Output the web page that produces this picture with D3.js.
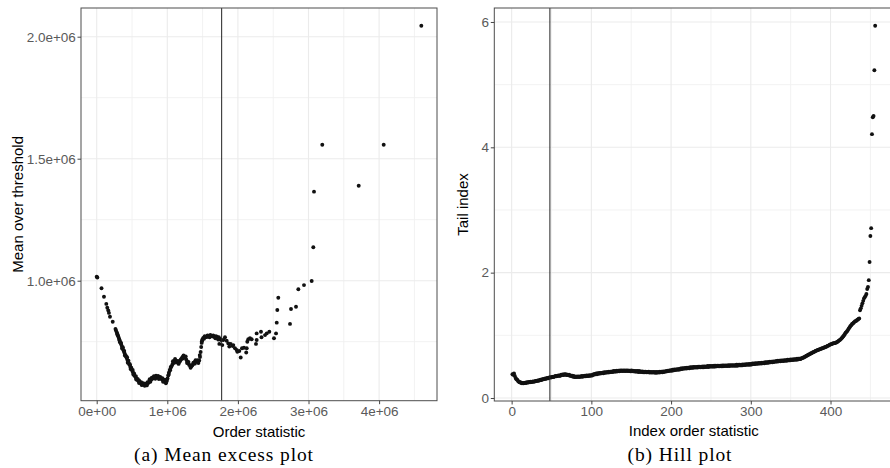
<!DOCTYPE html>
<html>
<head>
<meta charset="utf-8">
<script src="https://cdn.jsdelivr.net/npm/d3@7"></script>
<style>
  html, body { margin: 0; padding: 0; background: #fff; }
  svg { display: block; }
</style>
</head>
<body>
<svg id="fig" width="890" height="468"></svg>
<script>
// ---------- (a) Mean excess plot: threshold vs mean over threshold (both in millions) ----------
const meThreshold = [
  0.000,0.009,0.068,0.103,0.136,0.150,0.164,0.173,0.188,0.227,
  0.266,0.273,0.285,0.295,0.306,0.316,0.326,0.336,0.347,0.358,
  0.368,0.380,0.391,0.401,0.412,0.424,0.435,0.446,0.458,0.469,
  0.480,0.492,0.503,0.514,0.525,0.537,0.550,0.562,0.575,0.588,
  0.601,0.613,0.627,0.642,0.656,0.670,0.684,0.698,0.712,0.727,
  0.741,0.755,0.769,0.783,0.797,0.812,0.826,0.840,0.854,0.868,
  0.882,0.897,0.911,0.925,0.939,0.953,0.967,0.982,0.993,1.003,
  1.013,1.024,1.035,1.047,1.059,1.072,1.085,1.098,1.112,1.126,
  1.140,1.154,1.169,1.183,1.197,1.211,1.225,1.239,1.254,1.268,
  1.282,1.296,1.310,1.324,1.339,1.353,1.367,1.381,1.395,1.409,
  1.424,1.438,1.452,1.463,1.472,1.480,1.487,1.494,1.506,1.520,
  1.534,1.548,1.562,1.576,1.591,1.605,1.619,1.633,1.647,1.661,
  1.676,1.690,1.704,1.718,1.732,1.746,1.761,
  0.300,0.320,0.345,0.370,0.390,0.410,0.430,0.450,0.470,0.490,
  0.510,0.530,0.555,0.580,0.600,0.630,0.660,0.690,0.720,0.750,
  0.780,0.810,0.840,0.870,0.900,0.930,0.960,0.990,1.020,1.050,
  1.080,1.110,1.150,1.190,1.230,1.260,1.300,1.340,1.370,1.400,
  1.430,1.460,1.490,1.530,1.570,1.610,1.650,1.690,1.730,
  0.290,0.330,0.360,0.400,0.440,0.480,0.520,0.560,0.600,0.640,
  0.680,0.710,0.760,0.830,0.880,0.940,0.980,1.040,1.100,1.160,
  1.220,1.280,1.330,1.390,1.440,1.520,1.600,1.680,1.720,
  1.737,1.779,1.793,1.817,1.841,1.864,1.878,1.898,1.926,1.935,
  1.959,1.983,1.992,2.020,2.040,2.058,2.086,2.118,2.125,2.133,
  2.147,2.171,2.195,2.256,2.266,2.266,2.327,2.334,2.384,2.408,
  2.445,2.511,2.540,2.550,2.558,2.572,2.738,2.752,2.823,2.856,
  2.936,3.045,3.068,3.078,3.195,3.711,4.065,4.598
];
const meMeanExcess = [
  1.016,1.013,0.969,0.934,0.905,0.889,0.878,0.868,0.852,0.832,
  0.802,0.796,0.788,0.780,0.771,0.763,0.755,0.747,0.739,0.730,
  0.722,0.714,0.706,0.698,0.690,0.683,0.675,0.668,0.660,0.653,
  0.645,0.638,0.631,0.624,0.617,0.610,0.605,0.599,0.594,0.590,
  0.586,0.582,0.580,0.577,0.576,0.575,0.574,0.575,0.577,0.580,
  0.585,0.590,0.594,0.597,0.600,0.603,0.605,0.605,0.605,0.605,
  0.603,0.600,0.598,0.596,0.593,0.590,0.586,0.585,0.589,0.599,
  0.611,0.624,0.634,0.642,0.649,0.657,0.665,0.671,0.674,0.671,
  0.666,0.663,0.666,0.672,0.679,0.685,0.689,0.689,0.685,0.677,
  0.669,0.661,0.655,0.650,0.648,0.652,0.659,0.665,0.668,0.669,
  0.669,0.669,0.673,0.687,0.708,0.728,0.745,0.757,0.764,0.767,
  0.768,0.769,0.770,0.771,0.773,0.773,0.774,0.773,0.771,0.772,
  0.770,0.768,0.769,0.766,0.763,0.761,0.757,
  0.775,0.757,0.745,0.727,0.712,0.694,0.686,0.672,0.658,0.643,
  0.634,0.620,0.609,0.597,0.591,0.584,0.580,0.578,0.584,0.596,
  0.602,0.609,0.611,0.610,0.606,0.600,0.594,0.593,0.616,0.647,
  0.670,0.679,0.671,0.676,0.694,0.690,0.667,0.654,0.664,0.674,
  0.674,0.695,0.752,0.773,0.776,0.778,0.776,0.773,0.768,
  0.782,0.748,0.722,0.693,0.664,0.638,0.615,0.595,0.581,0.572,
  0.569,0.571,0.586,0.598,0.597,0.586,0.580,0.633,0.664,0.659,
  0.681,0.663,0.643,0.660,0.663,0.762,0.768,0.764,0.759,
  0.741,0.736,0.757,0.768,0.754,0.743,0.730,0.741,0.732,0.736,
  0.723,0.716,0.709,0.712,0.685,0.723,0.725,0.706,0.723,0.750,
  0.760,0.764,0.760,0.741,0.784,0.757,0.791,0.768,0.777,0.784,
  0.791,0.764,0.784,0.828,0.880,0.930,0.823,0.884,0.893,0.965,
  0.982,0.999,1.137,1.365,1.557,1.389,1.557,2.045
];
const meCutoff = 1.77;
const meXTicks = [0, 1, 2, 3, 4];
const meXTickLabels = ["0e+00", "1e+06", "2e+06", "3e+06", "4e+06"];
const meXMinor = [0.5, 1.5, 2.5, 3.5, 4.5];
const meYTicks = [1.0, 1.5, 2.0];
const meYTickLabels = ["1.0e+06", "1.5e+06", "2.0e+06"];
const meYMinor = [0.75, 1.25, 1.75];

// ---------- (b) Hill plot: tail index estimate for each index order statistic ----------
const hillTailIndex = [
  .38,.37,.39,.35,.32,.30,.29,.27,.26,.25,
  .25,.24,.235,.24,.235,.24,.245,.24,.25,.245,
  .25,.255,.25,.26,.255,.26,.265,.26,.265,.27,
  .27,.275,.28,.275,.285,.29,.285,.295,.30,.30,
  .305,.31,.305,.315,.32,.315,.325,.33,.325,.33,
  .335,.34,.335,.345,.35,.345,.35,.355,.36,.355,
  .355,.37,.365,.375,.365,.38,.37,.38,.365,.37,
  .365,.37,.355,.36,.35,.355,.34,.35,.335,.34,
  .335,.345,.335,.345,.335,.345,.34,.35,.34,.35,
  .345,.355,.345,.36,.35,.36,.35,.365,.355,.365,
  .36,.375,.37,.385,.38,.39,.38,.395,.385,.40,
  .39,.40,.395,.405,.395,.41,.40,.41,.405,.415,
  .405,.42,.41,.42,.415,.425,.415,.43,.42,.43,
  .42,.435,.425,.435,.425,.44,.43,.44,.43,.44,
  .43,.44,.43,.44,.43,.44,.43,.435,.425,.44,
  .425,.435,.425,.43,.42,.43,.42,.43,.415,.43,
  .415,.425,.415,.425,.41,.42,.41,.42,.41,.415,
  .41,.42,.405,.415,.405,.415,.405,.415,.405,.415,
  .40,.415,.405,.415,.405,.42,.41,.42,.41,.425,
  .415,.425,.42,.43,.425,.435,.43,.44,.435,.445,
  .435,.45,.44,.455,.445,.455,.45,.46,.45,.465,
  .455,.47,.46,.475,.465,.475,.47,.48,.47,.485,
  .475,.485,.475,.49,.48,.49,.48,.495,.485,.495,
  .485,.495,.485,.50,.49,.50,.49,.50,.49,.505,
  .49,.505,.495,.505,.495,.51,.495,.51,.50,.51,
  .50,.51,.50,.515,.50,.515,.505,.515,.505,.515,
  .505,.515,.505,.52,.505,.52,.51,.52,.51,.52,
  .51,.525,.51,.525,.515,.525,.515,.525,.515,.525,
  .515,.53,.515,.53,.52,.53,.52,.53,.52,.535,
  .525,.535,.525,.54,.53,.54,.53,.545,.53,.545,
  .535,.55,.54,.55,.54,.555,.545,.555,.545,.56,
  .55,.56,.55,.565,.555,.565,.555,.57,.56,.57,
  .56,.575,.565,.58,.57,.58,.57,.585,.575,.585,
  .58,.59,.58,.595,.585,.595,.585,.60,.59,.60,
  .59,.605,.595,.605,.595,.61,.60,.61,.60,.615,
  .605,.615,.605,.62,.61,.62,.61,.625,.615,.625,
  .625,.62,.63,.635,.64,.645,.65,.66,.665,.675,
  .68,.69,.695,.70,.71,.715,.72,.73,.735,.74,
  .75,.755,.76,.765,.77,.775,.78,.785,.79,.795,
  .80,.805,.81,.815,.82,.83,.835,.84,.85,.855,
  .86,.865,.87,.875,.875,.88,.885,.89,.90,.91,
  .92,.93,.94,.955,.97,.985,1.00,1.02,1.04,1.055,
  1.07,1.09,1.11,1.13,1.15,1.16,1.18,1.19,1.20,1.215,
  1.225,1.23,1.24,1.25,1.26,1.27,
  1.40,1.43,1.47,1.51,1.55,1.59,1.61,1.63,1.66,1.74,
  1.77,1.88,2.17,2.585,2.71,4.21,4.48,4.50,5.23,5.94
];
const hillOrderIndex = hillTailIndex.map((_, i) => i + 1);
const hillCutoff = 48;
const hillXTicks = [0, 100, 200, 300, 400];
const hillXTickLabels = ["0", "100", "200", "300", "400"];
const hillXMinor = [50, 150, 250, 350, 450];
const hillYTicks = [0, 2, 4, 6];
const hillYTickLabels = ["0", "2", "4", "6"];
const hillYMinor = [1, 3, 5];

// ---------- drawing ----------
const svg = d3.select("#fig");
const SANS = "'Liberation Sans', Arial, Helvetica, sans-serif";
const SERIF = "'Liberation Serif', 'Times New Roman', serif";

function drawPanel(cfg) {
  const { id, box, xDomain, yDomain, xs, ys, cutoff,
          xTicks, xLabels, xMinor, yTicks, yLabels, yMinor,
          xTitle, yTitle, xTitleY, yTitleX, caption, captionX } = cfg;

  const x = d3.scaleLinear().domain(xDomain).range([box.x0, box.x1]);
  const y = d3.scaleLinear().domain(yDomain).range([box.y1, box.y0]);

  const g = svg.append("g");
  g.append("clipPath").attr("id", id + "-clip")
    .append("rect").attr("x", box.x0).attr("y", box.y0)
    .attr("width", box.x1 - box.x0).attr("height", box.y1 - box.y0);

  const grid = g.append("g").attr("clip-path", `url(#${id}-clip)`);
  // minor grid
  grid.selectAll(".vminor").data(xMinor).join("line")
    .attr("class", "vminor")
    .attr("x1", d => x(d)).attr("x2", d => x(d)).attr("y1", box.y0).attr("y2", box.y1)
    .attr("stroke", "#f0f0f0").attr("stroke-width", 0.9);
  grid.selectAll(".hminor").data(yMinor).join("line")
    .attr("class", "hminor")
    .attr("y1", d => y(d)).attr("y2", d => y(d)).attr("x1", box.x0).attr("x2", box.x1)
    .attr("stroke", "#f0f0f0").attr("stroke-width", 0.9);
  // major grid
  grid.selectAll(".vmajor").data(xTicks).join("line")
    .attr("class", "vmajor")
    .attr("x1", d => x(d)).attr("x2", d => x(d)).attr("y1", box.y0).attr("y2", box.y1)
    .attr("stroke", "#ebebeb").attr("stroke-width", 1.1);
  grid.selectAll(".hmajor").data(yTicks).join("line")
    .attr("class", "hmajor")
    .attr("y1", d => y(d)).attr("y2", d => y(d)).attr("x1", box.x0).attr("x2", box.x1)
    .attr("stroke", "#ebebeb").attr("stroke-width", 1.1);

  // points
  grid.selectAll("circle").data(xs.map((v, i) => [v, ys[i]])).join("circle")
    .attr("cx", d => x(d[0])).attr("cy", d => y(d[1])).attr("r", 1.95)
    .attr("fill", "#111");

  // threshold line
  grid.append("line")
    .attr("x1", x(cutoff)).attr("x2", x(cutoff)).attr("y1", box.y0).attr("y2", box.y1)
    .attr("stroke", "#222").attr("stroke-width", 1);

  // panel border
  g.append("rect").attr("x", box.x0).attr("y", box.y0)
    .attr("width", box.x1 - box.x0).attr("height", box.y1 - box.y0)
    .attr("fill", "none").attr("stroke", "#4d4d4d").attr("stroke-width", 1);

  // axes
  const xAxis = d3.axisBottom(x).tickValues(xTicks)
    .tickFormat((d, i) => xLabels[i]).tickSize(3.5).tickPadding(2);
  const yAxis = d3.axisLeft(y).tickValues(yTicks)
    .tickFormat((d, i) => yLabels[i]).tickSize(3.5).tickPadding(1.7);

  const gx = g.append("g").attr("transform", `translate(0,${box.y1})`).call(xAxis);
  const gy = g.append("g").attr("transform", `translate(${box.x0},0)`).call(yAxis);
  [gx, gy].forEach(a => {
    a.select(".domain").remove();
    a.selectAll(".tick line").attr("stroke", "#444");
    a.selectAll(".tick text").attr("fill", "#5a5a5a")
      .style("font-family", SANS).style("font-size", "13.5px");
  });

  // titles
  g.append("text").attr("x", (box.x0 + box.x1) / 2).attr("y", xTitleY)
    .attr("text-anchor", "middle").style("font-family", SANS).style("font-size", "15px")
    .attr("fill", "#000").text(xTitle);
  g.append("text")
    .attr("transform", `translate(${yTitleX},${(box.y0 + box.y1) / 2}) rotate(-90)`)
    .attr("text-anchor", "middle").style("font-family", SANS).style("font-size", "15px")
    .attr("fill", "#000").text(yTitle);

  // caption
  g.append("text").attr("x", captionX).attr("y", 461)
    .attr("text-anchor", "middle").style("font-family", SERIF).style("font-size", "19.5px")
    .style("letter-spacing", "0.9px").attr("fill", "#000").text(caption);
}

drawPanel({
  id: "me",
  box: { x0: 81, x1: 437, y0: 8, y1: 400.7 },
  xDomain: [-0.2224, 4.82],
  yDomain: [0.5082, 2.1176],
  xs: meThreshold, ys: meMeanExcess, cutoff: meCutoff,
  xTicks: meXTicks, xLabels: meXTickLabels, xMinor: meXMinor,
  yTicks: meYTicks, yLabels: meYTickLabels, yMinor: meYMinor,
  xTitle: "Order statistic", yTitle: "Mean over threshold",
  xTitleY: 437, yTitleX: 22.5,
  caption: "(a) Mean excess plot", captionX: 224
});

drawPanel({
  id: "hill",
  box: { x0: 494.3, x1: 893.3, y0: 8, y1: 401 },
  xDomain: [-21.75, 478.75],
  yDomain: [-0.048, 6.223],
  xs: hillOrderIndex, ys: hillTailIndex, cutoff: hillCutoff,
  xTicks: hillXTicks, xLabels: hillXTickLabels, xMinor: hillXMinor,
  yTicks: hillYTicks, yLabels: hillYTickLabels, yMinor: hillYMinor,
  xTitle: "Index order statistic", yTitle: "Tail index",
  xTitleY: 436, yTitleX: 468,
  caption: "(b) Hill plot", captionX: 680
});
</script>
</body>
</html>
